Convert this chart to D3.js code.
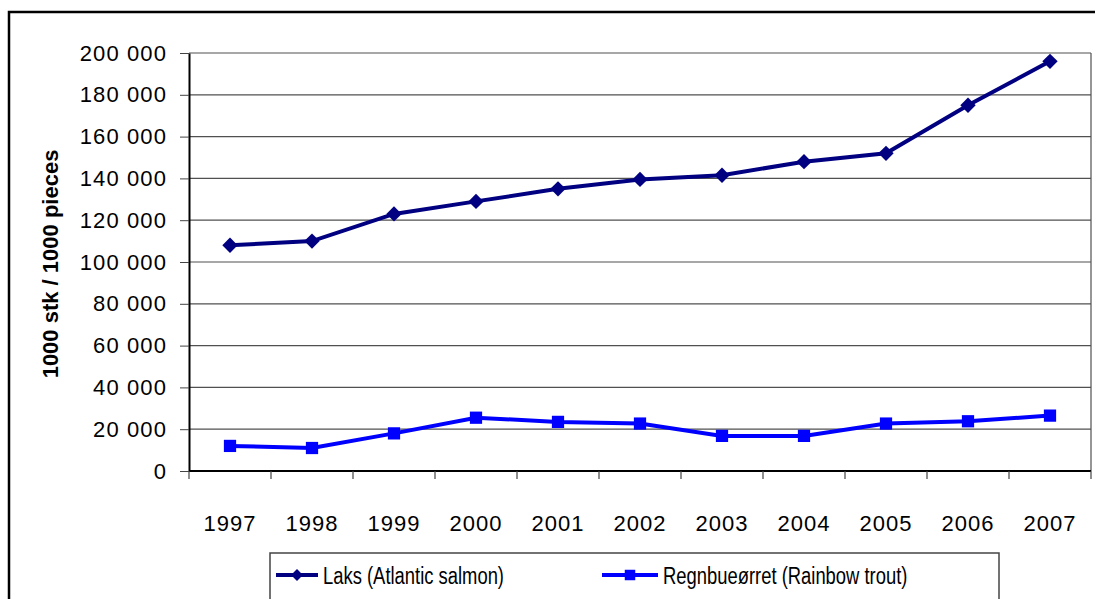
<!DOCTYPE html>
<html>
<head>
<meta charset="utf-8">
<script src="https://cdn.jsdelivr.net/npm/d3@7"></script>
<style>
  body { margin: 0; background: #fff; }
  svg { display: block; font-family: "Liberation Sans", Arial, sans-serif; }
</style>
</head>
<body>
<svg id="chart" width="1095" height="599"></svg>
<script>
// years on the x axis
var years = ["1997", "1998", "1999", "2000", "2001", "2002", "2003", "2004", "2005", "2006", "2007"];
// 1000 pieces
var laks = [108000, 110000, 123000, 129000, 135000, 139500, 141500, 148000, 152000, 175000, 196000];
var trout = [12000, 11000, 18000, 25500, 23500, 22700, 16800, 16800, 22700, 23800, 26500];
var yTicks = [0, 20000, 40000, 60000, 80000, 100000, 120000, 140000, 160000, 180000, 200000];
var seriesNames = ["Laks (Atlantic salmon)", "Regnbueørret (Rainbow trout)"];

var svg = d3.select("#chart");
var pLeft = 189, pRight = 1091, pTop = 53, pBottom = 471;

var x = d3.scaleBand().domain(years).range([pLeft, pRight]).padding(0);
var y = d3.scaleLinear().domain([0, 200000]).range([pBottom, pTop]);

var fmt = function(d) { return d3.format(",")(d).replace(/,/g, " "); };

// outer frame (runs off the picture to the right and bottom)
svg.append("rect")
    .attr("x", 9).attr("y", 12).attr("width", 1200).attr("height", 700)
    .attr("fill", "none").attr("stroke", "#000").attr("stroke-width", 2.5);

// grid
svg.append("g").selectAll("line")
  .data(yTicks.slice(1))
  .enter().append("line")
    .attr("x1", pLeft).attr("x2", pRight)
    .attr("y1", function(d) { return y(d); }).attr("y2", function(d) { return y(d); })
    .attr("stroke", "#505050").attr("stroke-width", 1.2);

// plot border right side
svg.append("line")
    .attr("x1", pRight).attr("x2", pRight).attr("y1", pTop).attr("y2", pBottom)
    .attr("stroke", "#505050").attr("stroke-width", 1.2);

// y axis
var yAxis = svg.append("g")
    .attr("transform", "translate(" + pLeft + ",0)")
    .call(d3.axisLeft(y).tickValues(yTicks).tickFormat(fmt).tickSize(9).tickSizeOuter(0).tickPadding(13));
yAxis.select(".domain").attr("stroke", "#000").attr("stroke-width", 2);
yAxis.selectAll(".tick line").attr("stroke", "#444");
yAxis.selectAll("text").attr("font-size", 22).attr("fill", "#000")
    .attr("font-family", "Liberation Sans, Arial, sans-serif").attr("letter-spacing", "1.1px");

// x axis baseline
svg.append("line")
    .attr("x1", pLeft).attr("x2", pRight).attr("y1", pBottom).attr("y2", pBottom)
    .attr("stroke", "#000").attr("stroke-width", 2);

// x ticks at category edges
var edges = years.map(function(d) { return x(d); }).concat([pRight]);
svg.append("g").selectAll("line")
  .data(edges)
  .enter().append("line")
    .attr("x1", function(d) { return d; }).attr("x2", function(d) { return d; })
    .attr("y1", pBottom).attr("y2", pBottom + 8)
    .attr("stroke", "#444").attr("stroke-width", 1.2);

// x labels
var xAxis = svg.append("g")
    .attr("transform", "translate(0," + pBottom + ")")
    .call(d3.axisBottom(x).tickSize(0).tickPadding(44));
xAxis.select(".domain").remove();
xAxis.selectAll("text").attr("font-size", 22).attr("fill", "#000")
    .attr("font-family", "Liberation Sans, Arial, sans-serif").attr("letter-spacing", "1px");

// y title
svg.append("text")
    .attr("transform", "translate(58,264) rotate(-90)")
    .attr("text-anchor", "middle")
    .attr("font-size", 22).attr("font-weight", "bold")
    .text("1000 stk / 1000 pieces");

var line = d3.line()
    .x(function(d, i) { return x(years[i]) + x.bandwidth() / 2; })
    .y(function(d) { return y(d); });

var diamond = d3.symbol().type(d3.symbolDiamond2).size(150);
var square = d3.symbol().type(d3.symbolSquare).size(150);

function drawSeries(vals, color, sym) {
  svg.append("path").datum(vals)
      .attr("d", line).attr("fill", "none")
      .attr("stroke", color).attr("stroke-width", 4);
  svg.append("g").selectAll("path")
    .data(vals)
    .enter().append("path")
      .attr("d", sym)
      .attr("transform", function(d, i) { return "translate(" + (x(years[i]) + x.bandwidth() / 2) + "," + y(d) + ")"; })
      .attr("fill", color);
}
drawSeries(laks, "#000080", diamond);
drawSeries(trout, "#0000ff", square);

// legend
var lg = svg.append("g");
lg.append("rect")
    .attr("x", 270).attr("y", 553).attr("width", 729).attr("height", 100)
    .attr("fill", "#fff").attr("stroke", "#444").attr("stroke-width", 1.5);

var legendItems = [
  { name: seriesNames[0], color: "#000080", sym: d3.symbol().type(d3.symbolDiamond2).size(90), x0: 276, x1: 318, tx: 323 },
  { name: seriesNames[1], color: "#0000ff", sym: d3.symbol().type(d3.symbolSquare).size(110), x0: 602, x1: 658, tx: 663 }
];
legendItems.forEach(function(it) {
  lg.append("line")
      .attr("x1", it.x0).attr("x2", it.x1).attr("y1", 575).attr("y2", 575)
      .attr("stroke", it.color).attr("stroke-width", 4);
  lg.append("path").attr("d", it.sym)
      .attr("transform", "translate(" + ((it.x0 + it.x1) / 2) + ",575)")
      .attr("fill", it.color);
  var t = lg.append("text")
      .attr("x", it.tx).attr("y", 584)
      .attr("font-size", 23)
      .text(it.name);
  var w = t.node().getComputedTextLength();
  t.attr("textLength", w * 0.8).attr("lengthAdjust", "spacingAndGlyphs");
});
</script>
</body>
</html>
